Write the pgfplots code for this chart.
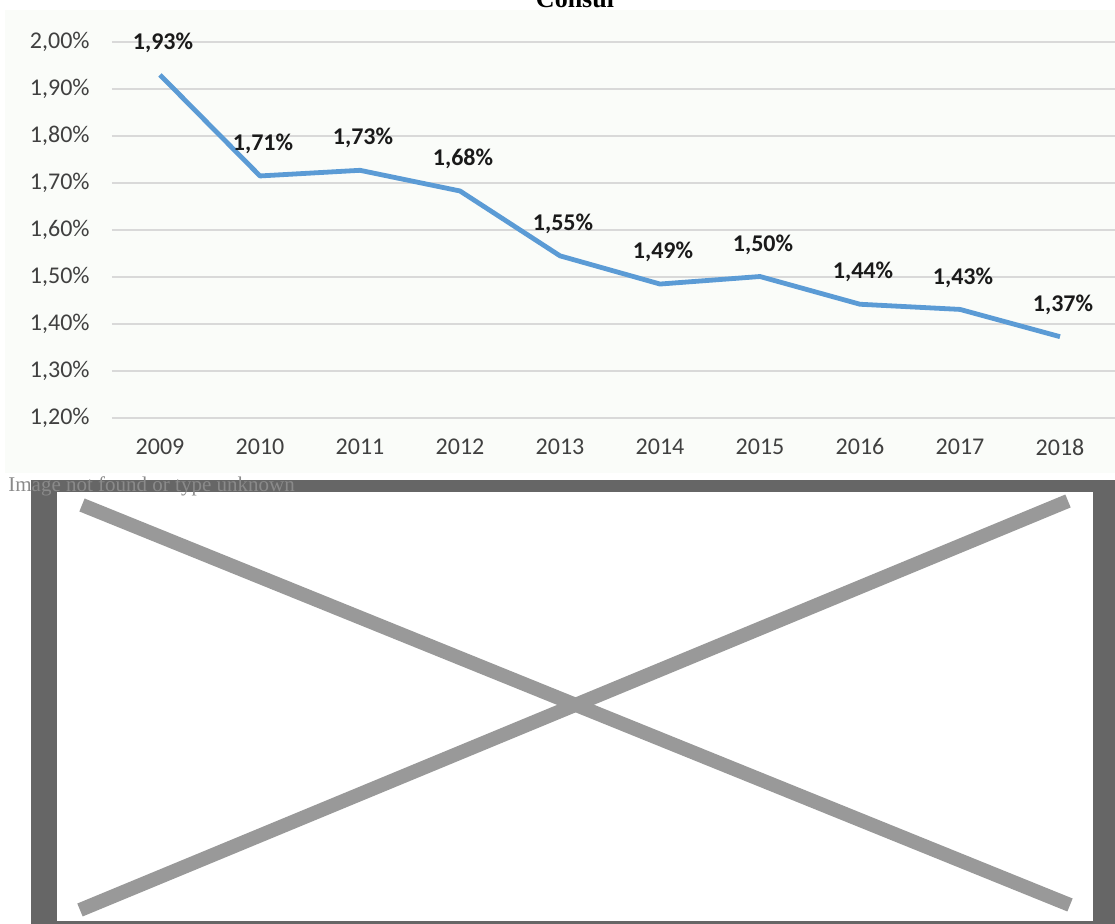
\documentclass[border=0pt]{standalone}
\usepackage{pgfplots}
\pgfplotsset{compat=1.18}
\usepackage{pgfplotstable}
\usepackage{fontspec}
\setmainfont{Carlito}
\newfontfamily\serifrm{Liberation Serif}
\definecolor{linec}{HTML}{5B9BD5}
\definecolor{gridc}{HTML}{D9D9D9}
\definecolor{tickc}{HTML}{404040}
\definecolor{labc}{HTML}{1A1A1A}
\definecolor{bgc}{HTML}{FAFCF9}
\definecolor{boxdark}{HTML}{666666}
\definecolor{boxlight}{HTML}{999999}
\pgfplotstableread{
x y lab
0 1.93 {1,93\%}
1 1.715 {1,71\%}
2 1.727 {1,73\%}
3 1.683 {1,68\%}
4 1.545 {1,55\%}
5 1.485 {1,49\%}
6 1.501 {1,50\%}
7 1.442 {1,44\%}
8 1.431 {1,43\%}
9 1.373 {1,37\%}
}\datatable
\begin{document}
\begin{tikzpicture}[x=0.5pt,y=0.5pt]
\useasboundingbox (0,0) rectangle (1115,924);
\clip (0,0) rectangle (1115,924);
\fill[bgc] (5,914) rectangle (1115,451);
\node[font=\serifrm\bfseries\fontsize{13}{15}\selectfont, anchor=base] at (575,916) {Consul};
\begin{axis}[
  at={(56pt,253pt)}, anchor=south west,
  scale only axis,
  width=501.5pt, height=188pt,
  xmin=-0.48, xmax=9.55,
  ymin=1.2, ymax=2.0,
  axis line style={draw=none},
  clip=false,
  ytick={1.2,1.3,1.4,1.5,1.6,1.7,1.8,1.9,2.0},
  yticklabels={{1,20\%},{1,30\%},{1,40\%},{1,50\%},{1,60\%},{1,70\%},{1,80\%},{1,90\%},{2,00\%}},
  xtick={0,1,2,3,4,5,6,7,8,9},
  xticklabels={2009,2010,2011,2012,2013,2014,2015,2016,2017,2018},
  tick style={draw=none},
  ymajorgrids,
  major grid style={draw=gridc, line width=0.75pt},
  yticklabel style={font=\fontsize{12}{14}\selectfont, text=tickc, anchor=east, inner sep=0pt, xshift=-11pt},
  xticklabel style={font=\fontsize{12}{14}\selectfont, text=tickc, anchor=center, inner sep=0pt, yshift=-14.5pt},
]
\addplot[linec, line width=2.4pt, line join=round, mark=none,
  nodes near coords, point meta=explicit symbolic,
  nodes near coords style={font=\bfseries\fontsize{12}{14}\selectfont, text=labc, anchor=center, yshift=16pt, xshift=1.5pt}]
  table[x=x, y=y, meta=lab] {\datatable};
\end{axis}
% broken image placeholder
\fill[boxdark] (31,444) rectangle (1115,0);
\fill[white] (57,432) rectangle (1093,3);
\draw[boxlight, line width=7pt, line cap=butt] (82,419) -- (1070,19);
\draw[boxlight, line width=7pt, line cap=butt] (1068,423) -- (80,14);
\node[font=\serifrm\fontsize{10.5}{12}\selectfont, text=boxlight!90!black, anchor=base west, inner sep=0pt] at (8,432) {Image not found or type unknown};
\end{tikzpicture}
\end{document}
